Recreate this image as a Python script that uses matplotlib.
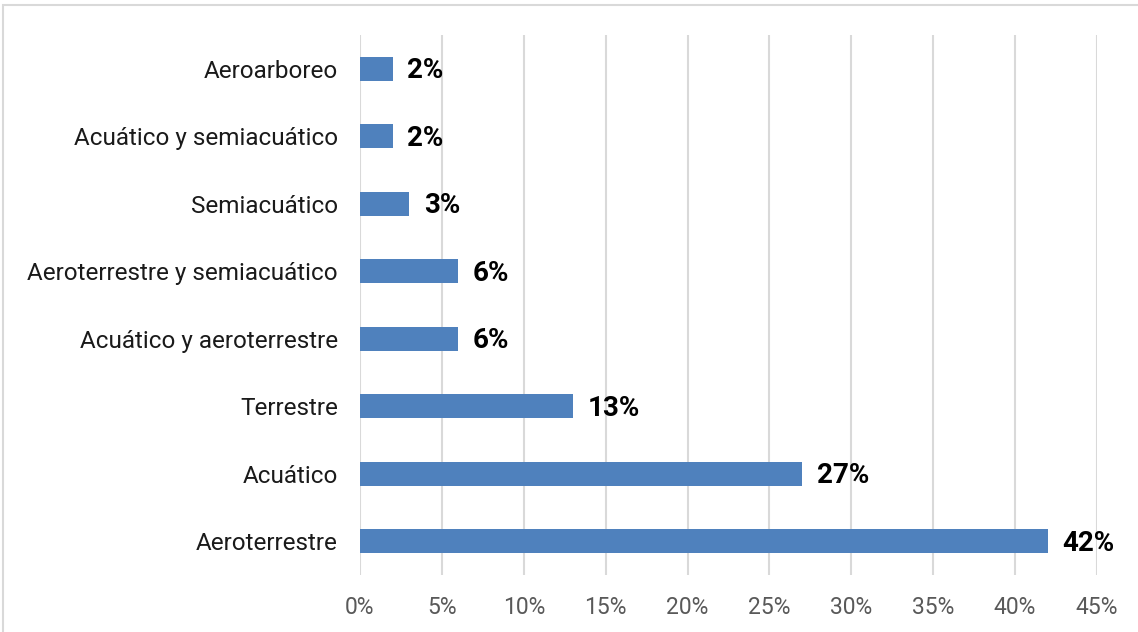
import matplotlib.pyplot as plt
from matplotlib.patches import Rectangle

# datos del grafico (de abajo hacia arriba)
categorias = ["Aeroterrestre", "Acuático", "Terrestre", "Acuático y aeroterrestre",
              "Aeroterrestre y semiacuático", "Semiacuático",
              "Acuático y semiacuático", "Aeroarboreo"]
porcentajes = [42, 27, 13, 6, 6, 3, 2, 2]
ticks_x = [0, 5, 10, 15, 20, 25, 30, 35, 40, 45]

plt.rcParams['font.family'] = ['Roboto', 'DejaVu Sans']

fig = plt.figure(figsize=(11.38, 6.32), dpi=100)
ax = fig.add_axes([360 / 1138, 1 - 575 / 632, (1097 - 360) / 1138, 540 / 632])

pos = range(len(categorias))
ax.barh(pos, porcentajes, height=0.36, color="#4f81bd", zorder=3)

for y, v in zip(pos, porcentajes):
    ax.text(v + 0.9, y - 0.03, f"{v}%", va="center", ha="left",
            fontsize=20, fontweight="bold", color="black")

ax.set_xlim(0, 45)
ax.set_ylim(-0.5, len(categorias) - 0.5)
ax.set_xticks(ticks_x)
ax.set_xticklabels([f"{t}%" for t in ticks_x], color="#595959", fontsize=16.5)
ax.set_yticks(list(pos))
ax.set_yticklabels(categorias, fontsize=17.5, color="#1a1a1a")
ax.tick_params(axis="both", length=0)
ax.tick_params(axis="x", pad=15)
ax.tick_params(axis="y", pad=16)
ax.grid(axis="x", color="#d9d9d9", linewidth=1.5, zorder=0)
for s in ax.spines.values():
    s.set_visible(False)

# marco del grafico
fig.patches.append(Rectangle((3 / 1138, -0.01), 1.02, 1 - 5 / 632 + 0.01,
                             transform=fig.transFigure, fill=False,
                             edgecolor="#d9d9d9", linewidth=1.5))

fig.savefig("out.png", dpi=100)
